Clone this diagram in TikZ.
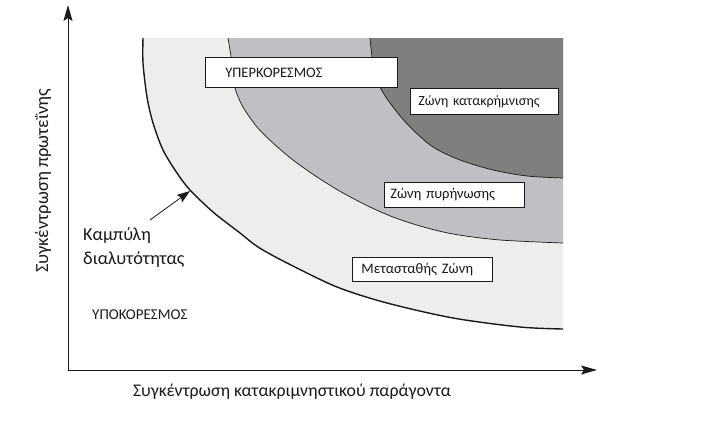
\documentclass[tikz,border=0pt]{standalone}
\usepackage{fontspec}
\setmainfont{Carlito}
\usetikzlibrary{arrows.meta}
\definecolor{zlight}{HTML}{EDEDED}
\definecolor{zmid}{HTML}{BFC0C3}
\definecolor{zdark}{HTML}{7F7F80}
\definecolor{ink}{HTML}{1A1A1A}
\tikzset{
  axisline/.style={draw=ink, line width=1pt, -{Stealth[length=16pt,width=9pt,inset=3pt]}},
  zonebox/.style={draw=ink, fill=white, line width=0.8pt, anchor=north west, inner ysep=0pt, align=left, font=\fontsize{14.5}{16}\selectfont, text=ink},
  bound/.style={draw=ink, line width=0.7pt},
  curveline/.style={draw=ink, line width=1.4pt},
  pointer/.style={draw=ink, line width=0.8pt, -{Stealth[length=13pt,width=9pt,inset=2pt]}},
  lbl/.style={text=ink, inner sep=0pt}
}
\begin{document}
\begin{tikzpicture}[x=1pt,y=-1pt]
\useasboundingbox (0,0) rectangle (723,424);
% zones
\fill[zlight] plot[smooth] coordinates {(143,38) (143,63) (147,97) (153,123) (163,150) (177,173) (190,190) (213,212) (240,233) (258,247) (287,263) (337,287) (387,303) (453,318) (520,327) (563,329)} -- (563,38) -- cycle;
\fill[zmid] plot[smooth] coordinates {(228,38) (232,63) (235,88) (243,107) (257,127) (273,143) (293,160) (317,177) (343,193) (370,207) (393,217) (420,226) (453,234) (500,240) (563,243)} -- (563,38) -- cycle;
\fill[zdark] plot[smooth] coordinates {(370,38) (373,63) (380,87) (393,107) (410,127) (433,147) (460,160) (493,170) (527,176) (563,178)} -- (563,38) -- cycle;
% boundaries
\draw[curveline] plot[smooth] coordinates {(143,38) (143,63) (147,97) (153,123) (163,150) (177,173) (190,190) (213,212) (240,233) (258,247) (287,263) (337,287) (387,303) (453,318) (520,327) (563,329)};
\draw[bound] plot[smooth] coordinates {(228,38) (232,63) (235,88) (243,107) (257,127) (273,143) (293,160) (317,177) (343,193) (370,207) (393,217) (420,226) (453,234) (500,240) (563,243)};
\draw[bound] plot[smooth] coordinates {(370,38) (373,63) (380,87) (393,107) (410,127) (433,147) (460,160) (493,170) (527,176) (563,178)};
% axes
\coordinate (O) at (68,370);
\coordinate (ytop) at (68,5);
\coordinate (xend) at (597,370);
\draw[axisline] (O) -- (ytop);
\draw[axisline] (O) -- (xend);
% boxes
\node[zonebox, inner xsep=20pt, text width=152pt, minimum height=30pt] (super) at (205,57) {\mbox{ΥΠΕΡΚΟΡΕΣΜΟΣ}};
\node[zonebox, inner xsep=8pt, text width=132pt, minimum height=26pt, font=\fontsize{14}{16}\selectfont] (prec) at (410,88) {\mbox{Ζώνη κατακρήμνισης}};
\node[zonebox, inner xsep=6pt, text width=128pt, minimum height=25pt] (nucl) at (384,182) {\mbox{Ζώνη πυρήνωσης}};
\node[zonebox, inner xsep=9pt, text width=122pt, minimum height=24pt] (meta) at (352,257) {\mbox{Μετασταθής Ζώνη}};
% labels
\node[lbl, anchor=north west, align=left, font=\fontsize{18.3}{24}\selectfont] (curve) at (83,227) {Καμπύλη\\διαλυτότητας};
\node[lbl, anchor=west, font=\fontsize{15}{17}\selectfont] (under) at (92,315) {ΥΠΟΚΟΡΕΣΜΟΣ};
\node[lbl, font=\fontsize{17.8}{20}\selectfont] (xlab) at (292,392) {Συγκέντρωση κατακριμνηστικού παράγοντα};
\node[lbl, rotate=90, font=\fontsize{18.5}{20}\selectfont] (ylab) at (43,181) {Συγκέντρωση πρωτεΐνης};
% pointer
\coordinate (ptail) at (150,220);
\coordinate (phead) at (190,191);
\draw[pointer] (ptail) -- (phead);
\end{tikzpicture}
\end{document}
